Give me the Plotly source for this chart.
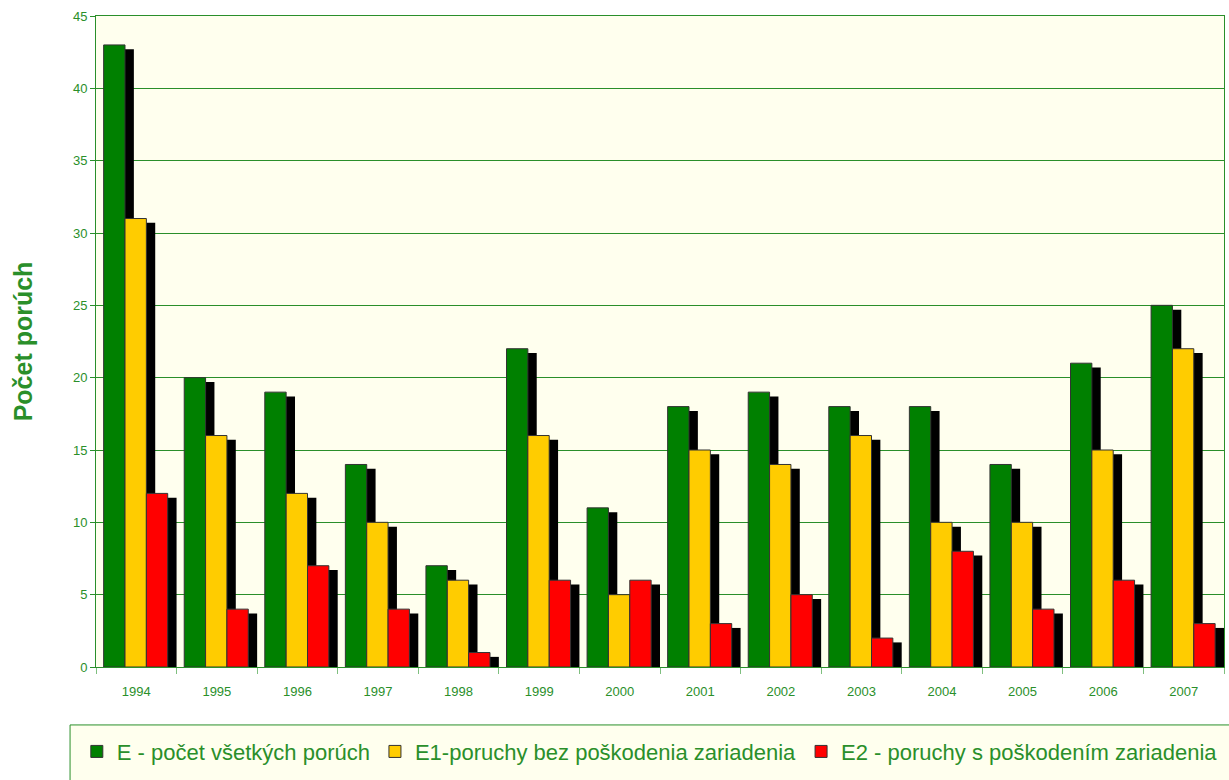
import plotly.graph_objects as go

years = ["1994", "1995", "1996", "1997", "1998", "1999", "2000",
         "2001", "2002", "2003", "2004", "2005", "2006", "2007"]
E_all = [43, 20, 19, 14, 7, 22, 11, 18, 19, 18, 18, 14, 21, 25]
E1 = [31, 16, 12, 10, 6, 16, 5, 15, 14, 16, 10, 10, 15, 22]
E2 = [12, 4, 7, 4, 1, 6, 6, 3, 5, 2, 8, 4, 6, 3]

series = [
    ("E - počet všetkých porúch", E_all, "#008000"),
    ("E1-poruchy bez poškodenia zariadenia", E1, "#FFCC00"),
    ("E2 - poruchy s poškodením zariadenia", E2, "#FF0000"),
]

GREEN = "#2a8f2a"
IVORY = "#FFFFEE"
idx = list(range(len(years)))
width = 0.265
offsets = [-0.405, -0.14, 0.125]
sh_dx = 0.11
sh_dy = 0.3

fig = go.Figure()
for (name, vals, col), off in zip(series, offsets):
    fig.add_trace(go.Bar(
        x=idx, y=[v - sh_dy for v in vals], width=width, offset=off + sh_dx,
        marker=dict(color="black", line=dict(width=0)),
        showlegend=False, hoverinfo="skip"))
    fig.add_trace(go.Bar(
        x=idx, y=vals, width=width, offset=off, name=name,
        marker=dict(color=col, line=dict(color="#333333", width=1))))

fig.update_layout(
    barmode="overlay",
    width=1229, height=780,
    margin=dict(l=96, r=5, t=16, b=113),
    paper_bgcolor="white",
    plot_bgcolor=IVORY,
    font=dict(family="Liberation Sans, Arial, sans-serif", color=GREEN, size=13),
    showlegend=True,
    legend=dict(orientation="h", x=-0.017, xanchor="left", y=-0.13, yanchor="middle",
                bgcolor="rgba(0,0,0,0)", borderwidth=0,
                font=dict(size=22, color=GREEN), itemwidth=30),
    shapes=[dict(type="rect", xref="paper", yref="paper",
                 x0=-0.023, x1=1.2, y0=-0.089, y1=-0.3,
                 line=dict(color=GREEN, width=1), fillcolor=IVORY, layer="below")],
)
fig.update_yaxes(
    range=[0, 45], dtick=5, tick0=0,
    showgrid=True, gridcolor=GREEN, gridwidth=1,
    showline=True, linecolor=GREEN, linewidth=1, mirror=True,
    ticks="outside", ticklen=5, tickcolor=GREEN,
    tickfont=dict(size=13, color=GREEN),
    zeroline=False,
    title=dict(text="<b>Počet porúch</b>", font=dict(size=25, color=GREEN), standoff=33),
    automargin=False,
)
fig.update_xaxes(
    range=[-0.5, len(years) - 0.5],
    tickmode="array", tickvals=idx, ticktext=years,
    ticks="", showgrid=False,
    showline=True, linecolor=GREEN, linewidth=1, mirror=True,
    tickfont=dict(size=13, color=GREEN),
    ticklabelstandoff=12,
    minor=dict(tick0=-0.5, dtick=1, ticks="outside", ticklen=6, tickcolor="#7fbf7f", showgrid=False),
    zeroline=False,
    automargin=False,
)

fig.write_html("out.html")
